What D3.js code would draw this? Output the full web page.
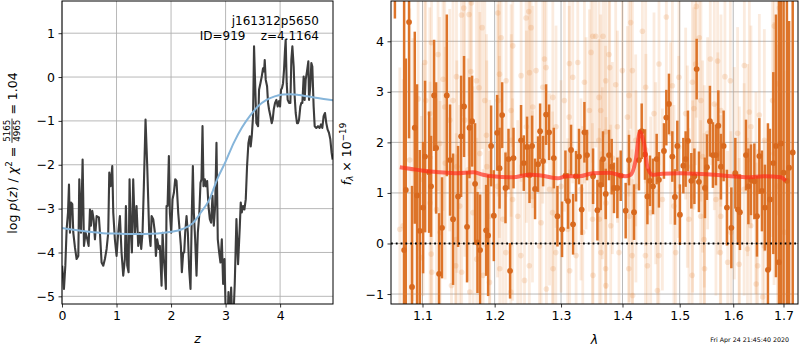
<!DOCTYPE html>
<html>
<head>
<meta charset="utf-8">
<script src="https://cdn.jsdelivr.net/npm/d3@7"></script>
<style>
  html, body { margin: 0; padding: 0; background: #fff; }
  svg text { font-family: "DejaVu Sans", sans-serif; fill: #000; }
</style>
</head>
<body>
<svg id="fig" width="800" height="350"></svg>
<script>
// ---------------- redshift probability p(z) ----------------
const zGrid = [0.003,0.012,0.036,0.061,0.085,0.110,0.128,0.146,0.164,0.189,0.207,0.238,0.268,0.299,0.317,0.348,0.378,0.403,0.433,0.464,0.488,0.513,0.531,0.555,0.580,0.604,0.635,0.677,0.696,0.726,0.757,0.787,0.818,0.848,0.867,0.891,0.922,0.940,0.970,1.001,1.031,1.062,1.092,1.123,1.153,1.172,1.196,1.221,1.239,1.263,1.282,1.306,1.337,1.367,1.398,1.428,1.453,1.477,1.501,1.532,1.563,1.599,1.624,
1.643,1.673,1.704,1.722,1.746,1.777,1.795,1.826,1.844,1.868,1.887,1.905,1.917,1.936,1.960,1.978,2.003,2.027,2.052,2.076,2.100,2.131,2.161,2.180,2.198,2.223,2.241,2.259,2.284,2.308,2.332,2.357,2.381,2.400,2.418,2.442,2.467,2.491,2.516,2.540,2.558,2.577,2.595,2.619,2.638,2.662,2.686,2.711,2.735,2.760,2.784,2.809,2.833,2.857,2.882,2.906,2.931,2.955,2.980,3.004,3.028,3.053,3.077,3.102,3.126,3.150,3.168,3.199,3.229,3.260,
3.278,3.297,3.321,3.345,3.370,3.394,3.419,3.443,3.461,3.480,3.504,3.522,3.547,3.565,3.596,3.614,3.639,3.663,3.687,3.706,3.718,3.736,3.761,3.779,3.797,3.822,3.846,3.864,3.883,3.907,3.932,3.956,3.980,3.999,4.017,4.035,4.054,4.072,4.090,4.102,4.121,4.139,4.164,4.188,4.206,4.225,4.249,4.267,4.286,4.310,4.328,4.347,4.371,4.389,4.408,4.432,4.450,4.469,4.493,4.518,4.530,4.554,4.573,4.591,4.615,4.634,4.664,4.695,4.725,4.750,4.774,4.798,4.823,4.847,4.872,4.896,4.921,4.945,4.963];
const logPz = [-4.30,-4.45,-4.83,-4.30,-3.47,-3.09,-2.45,-3.55,-2.86,-2.90,-3.55,-3.89,-4.15,-4.08,-2.33,-3.55,-1.88,-3.85,-3.55,-3.70,-3.85,-3.02,-3.39,-3.05,-3.24,-3.70,-3.17,-3.20,-3.55,-4.23,-4.30,-4.15,-3.92,-3.55,-2.18,-2.49,-2.03,-3.09,-3.70,-4.08,-3.55,-3.17,-4.00,-4.53,-4.15,-2.94,-4.30,-4.45,-2.33,-3.55,-4.00,-2.33,-3.55,-2.94,-3.85,-3.55,-3.92,-3.55,-2.49,-0.97,-2.03,-3.55,-3.85,
-3.17,-3.24,-3.55,-4.08,-3.70,-3.92,-3.85,-4.76,-3.55,-4.15,-4.45,-4.83,-2.94,-2.94,-1.80,-3.09,-3.55,-2.79,-2.64,-2.33,-2.37,-3.09,-3.55,-3.85,-4.45,-4.00,-4.00,-3.55,-3.17,-3.55,-4.38,-4.83,-3.09,-2.03,-3.09,-3.70,-4.53,-3.55,-3.17,-2.41,-2.33,-1.12,-2.49,-2.33,-2.49,-2.37,-2.94,-3.24,-3.32,-2.71,-3.39,-2.94,-1.50,-3.70,-4.00,-4.23,-3.70,-4.72,-4.15,-5.50,-5.90,-4.90,-5.60,-4.80,-5.70,-5.30,-4.72,-3.24,-4.27,-3.43,
-2.86,-3.09,-2.94,-3.02,-2.79,-2.03,-1.50,-1.35,-1.58,-1.35,-0.89,0.70,-0.36,-1.05,-1.12,-0.29,-0.14,0.01,0.20,0.13,0.39,-0.06,-0.21,-0.59,-0.74,-0.89,-1.05,-0.97,-0.74,-0.59,-0.52,-0.67,-0.55,-0.67,-0.29,-0.25,-0.14,0.17,0.62,0.85,-0.14,-0.52,-0.59,-0.59,0.39,0.70,0.24,-0.44,-0.82,-1.05,-1.05,-0.97,-0.67,-0.59,-0.59,0.01,-0.52,-0.06,0.13,0.36,-0.52,-0.21,0.32,0.24,-0.67,-1.12,-1.16,-1.12,-1.16,-1.08,-1.16,-0.89,-0.82,-1.05,-1.20,-1.27,-1.42,-1.73,-1.88];

// smoothed prior-weighted curve
const zSmooth = [0,0.25,0.5,0.75,1.0,1.25,1.5,1.75,2.0,2.2,2.4,2.55,2.7,2.85,3.0,3.15,3.3,3.45,3.6,3.75,3.9,4.05,4.2,4.35,4.5,4.65,4.8,4.97];
const logPzSmooth = [-3.44,-3.49,-3.53,-3.56,-3.57,-3.58,-3.58,-3.57,-3.53,-3.47,-3.33,-3.08,-2.80,-2.32,-1.93,-1.50,-1.15,-0.88,-0.66,-0.52,-0.44,-0.40,-0.39,-0.41,-0.44,-0.47,-0.50,-0.53];

const zTicks = [0,1,2,3,4];
const logPTicks = [-5,-4,-3,-2,-1,0,1];

// ---------------- spectrum ----------------
// binned 1D spectrum
const specLam = [1.0640,1.0759,1.0781,1.0823,1.0862,1.0898,1.0928,1.0964,1.1008,1.1034,1.1088,1.1114,1.1155,1.1182,1.1222,1.1262,1.1327,1.1372,1.1413,1.1482,1.1524,1.1565,1.1607,1.1641,1.1678,1.1720,1.1754,1.1791,1.1877,1.1906,1.1949,1.1988,
1.2036,1.2071,1.2109,1.2158,1.2202,1.2225,1.2276,1.2388,1.2429,1.2478,1.2515,1.2554,1.2599,1.2645,1.2676,1.2722,1.2768,1.2814,1.2887,1.2944,1.3016,1.3069,1.3110,1.3158,1.3190,1.3237,1.3285,1.3328,1.3372,1.3414,1.3512,
1.3583,1.3637,1.3675,1.3720,1.3774,1.3819,1.3857,1.3914,1.3970,1.4054,1.4110,1.4196,1.4281,1.4328,1.4385,1.4427,1.4472,1.4524,1.4589,1.4629,1.4718,1.4760,1.4807,1.4867,1.4914,1.4957,1.5004,1.5066,1.5108,1.5150,1.5212,1.5268,1.5310,1.5352,
1.5464,1.5501,1.5557,1.5613,1.5670,1.5715,1.5765,1.5816,1.5879,1.5964,1.6041,1.6091,1.6130,1.6248,1.6295,1.6346,1.6413,1.6465,1.6512,1.6564,1.6624,1.6684,1.6724,1.6793,1.6846,1.6907,1.6948,1.7002,1.7070,1.7115,1.7190];
const specFlux = [5.60,-0.13,1.06,4.38,-0.86,2.29,0.95,0.25,0.71,1.72,1.41,1.13,2.93,1.89,-0.60,0.31,2.93,1.65,0.48,0.93,2.12,2.71,0.33,2.29,2.42,1.18,0.02,-0.13,0.26,0.16,1.93,0.55,
2.19,1.49,2.54,1.10,1.67,-0.54,1.69,2.04,1.59,1.91,1.35,1.93,1.08,1.57,2.22,1.63,2.55,2.20,1.69,0.54,0.28,1.34,0.84,1.85,0.38,1.33,1.72,0.67,2.20,1.75,1.33,
0.66,1.16,1.67,0.98,1.75,1.52,1.10,1.10,1.34,0.65,1.65,0.62,1.65,2.22,1.76,0.93,1.24,1.13,1.67,1.26,1.83,2.49,2.76,1.72,0.92,1.93,0.57,1.54,1.67,2.03,1.24,1.33,3.45,1.22,
1.10,1.51,2.42,1.75,1.75,2.33,1.52,1.93,0.71,0.31,1.39,0.67,0.62,1.75,1.13,1.26,1.23,0.54,1.73,1.04,0.71,-0.52,0.87,1.59,1.93,-0.37,1.98,1.40,1.24,1.50,1.80];
const specErr = [1.15,5.2,2.6,2.3,2.0,1.9,2.2,1.6,1.3,1.5,1.2,1.0,1.1,1.3,1.2,1.0,1.6,1.1,1.3,1.0,1.2,1.0,1.1,1.0,0.9,1.2,1.0,1.1,0.9,1.2,0.8,0.9,
0.75,0.8,0.65,0.7,0.6,0.55,0.6,0.7,0.55,0.6,0.55,0.6,0.6,0.55,0.55,0.5,0.6,0.55,0.6,0.6,0.55,0.5,0.55,0.5,0.6,0.5,0.55,0.5,0.6,0.5,0.55,
0.6,0.5,0.55,0.5,0.5,0.55,0.5,0.6,0.5,0.55,0.5,0.55,0.6,0.55,0.5,0.55,0.5,0.55,0.5,0.55,0.55,0.55,0.6,0.5,0.55,0.5,0.6,0.55,0.55,0.6,0.55,0.55,0.6,0.6,
0.6,0.65,0.7,0.65,0.6,0.7,0.65,0.7,0.75,0.8,0.7,0.7,0.75,0.7,0.75,0.7,0.75,0.8,0.75,0.8,0.85,2.9,1.4,1.8,2.6,5.4,3.6,4.2,4.6,2.9,4.5];

// individual unbinned pixels
const rawLam = [1.1669,1.1561,1.1635,1.1529,1.1820,1.1120,1.1208,1.1030,1.1276,1.1460,1.1659,1.1740,1.1858,1.1777,1.1413,1.1043,1.0942,1.1097,1.1299,1.1368,1.1575,1.1882,1.1231,1.1305,1.1465,1.1787,1.1621,1.0832,1.0875,1.1008,1.1887,1.0746,1.0703,1.1100,1.1187,1.1506,1.1692,1.1930,1.1236,1.1455,1.1744,1.1116,1.0986,1.1450,1.1532,1.1391,1.1125,1.1834,1.1925,1.1645,
1.2046,1.2504,1.2464,1.2539,1.2094,1.2265,1.3507,1.2071,1.2167,1.2389,1.2515,1.2615,1.2743,1.2768,1.3185,1.3265,1.3372,1.3479,1.3132,1.2050,1.2240,1.2564,1.2717,1.2872,1.3053,1.3453,1.2068,1.2243,1.2468,1.2922,1.3128,1.3398,1.2042,1.2262,1.2560,1.2821,1.3000,1.3317,1.2119,1.2339,1.2691,1.2868,1.3105,1.3345,1.3503,1.2163,1.2385,1.2666,1.2918,1.3238,1.2074,1.2512,1.2876,1.2440,1.3136,1.3511,1.2237,1.2772,
1.3555,1.3675,1.3774,1.4139,1.4340,1.4760,1.5304,1.4630,1.3786,1.3998,1.4168,1.4986,1.5291,1.5231,1.3610,1.3720,1.3886,1.4110,1.4397,1.4868,1.5260,1.5108,1.3637,1.4083,1.4542,1.3716,1.3914,1.4837,1.3606,1.4225,1.4401,1.4982,1.3665,1.3831,1.4572,1.5139,1.3724,1.4229,1.4690,1.4896,1.5235,1.3614,1.3803,1.4114,1.4484,1.5168,1.3641,1.3941,1.4164,1.4393,1.4626,1.4927,1.3718,1.4106,1.4427,1.5227,1.3722,1.4172,1.4602,
1.5359,1.5564,1.5702,1.5841,1.5944,1.6216,1.6812,1.6915,1.6880,1.5389,1.5639,1.5765,1.6314,1.6512,1.6778,1.5514,1.6085,1.6346,1.6612,1.5421,1.5706,1.6021,1.6281,1.6808,1.5452,1.5670,1.6212,1.6445,1.6876,1.5385,1.5761,1.6118,1.6342,1.5956,1.7017,1.5448,1.5753,1.6277,1.6608,1.5893,1.6114,1.6478,1.5456,1.6449,1.6578];
const rawFlux = [4.76,4.66,4.53,4.52,4.27,3.97,3.74,3.58,3.25,3.30,3.40,3.22,2.83,3.08,2.83,2.83,2.86,2.57,2.70,2.44,2.44,2.14,1.98,1.59,1.52,1.78,1.46,1.65,1.46,1.26,1.52,0.35,0.28,0.80,0.67,0.74,0.61,0.54,0.22,0.08,-0.31,-0.21,-0.28,-0.44,-0.57,-0.83,-0.57,-0.63,-0.77,-0.96,
4.56,4.59,4.46,4.27,4.07,3.91,4.10,3.35,3.22,3.32,3.38,3.42,3.65,3.48,3.29,3.58,3.19,3.78,3.56,2.83,2.63,2.70,3.09,2.89,2.83,2.63,1.91,2.04,2.31,2.31,2.50,2.18,1.13,0.87,0.93,1.07,1.13,1.07,0.48,0.54,0.41,0.61,0.28,0.22,0.48,-0.18,-0.24,-0.05,-0.18,-0.24,-0.50,-0.44,-0.50,-0.73,-0.54,-0.63,-0.96,-0.90,
4.10,4.10,3.74,4.37,4.20,4.48,4.69,3.55,3.48,3.42,3.42,3.29,3.55,3.19,2.89,3.22,3.14,2.93,3.09,3.12,2.67,2.57,2.63,2.50,2.57,2.21,2.31,2.18,2.04,2.04,1.85,1.91,1.39,1.69,1.39,1.52,0.80,1.13,0.87,0.74,0.93,0.48,0.35,0.54,0.61,0.48,-0.18,-0.18,-0.24,-0.24,-0.24,-0.18,-0.50,-0.50,-0.44,-0.63,-0.83,-1.03,-0.93,
4.07,3.65,3.61,3.30,3.22,3.52,4.30,4.66,3.16,2.83,2.76,2.63,2.60,2.54,2.83,2.18,2.18,2.31,2.04,1.72,1.78,1.39,1.65,1.78,1.13,0.87,1.07,1.00,1.13,0.54,0.54,0.61,0.35,0.22,0.22,0.08,-0.18,-0.11,-0.05,-0.37,-0.41,-0.44,-0.50,-0.80,-1.06];
const rawErr = [2.5,2.2,2.8,2.0,2.4,2.3,2.7,2.1,2.6,1.9,2.4,2.2,2.9,2.0,2.3,2.6,3.0,2.1,2.4,2.2,2.7,2.0,2.5,2.3,2.1,2.8,2.2,3.0,2.6,2.3,2.1,2.9,3.2,2.4,2.2,2.0,2.5,2.3,2.6,2.1,2.4,2.7,2.8,2.2,2.0,2.5,2.3,2.1,2.6,2.2,
2.3,2.6,2.1,2.4,2.2,2.0,2.5,1.9,2.3,2.1,2.0,2.4,2.2,1.9,2.1,2.3,2.0,2.4,2.2,1.9,2.1,2.0,2.3,1.9,2.2,2.0,1.8,2.1,1.9,2.0,2.2,1.9,1.8,2.0,1.7,1.9,2.1,1.8,2.0,1.9,1.7,2.0,1.8,2.1,1.9,2.0,1.8,2.2,1.9,2.1,2.0,2.2,1.9,2.3,2.0,2.1,2.4,2.2,
2.2,2.0,2.4,2.1,2.3,1.9,2.2,2.0,1.8,2.1,1.9,2.2,2.0,1.8,1.9,2.1,1.7,2.0,1.9,1.8,2.0,1.7,1.9,1.8,2.0,1.7,1.9,1.8,2.0,1.7,1.9,1.8,1.7,1.9,1.8,2.0,1.7,1.9,1.8,2.0,1.9,1.8,2.0,1.7,1.9,1.8,2.0,1.9,2.1,1.8,2.0,1.9,2.1,2.0,1.9,2.2,2.1,2.3,2.0,
2.3,2.1,2.2,2.0,2.1,2.2,2.8,3.0,2.6,2.0,2.1,1.9,2.2,2.0,2.7,1.9,2.1,2.0,2.2,1.9,2.0,2.1,1.9,2.6,2.0,1.9,2.1,2.0,2.8,1.9,2.0,2.1,1.9,2.0,3.2,2.1,2.0,2.2,2.1,2.2,2.1,2.3,2.2,2.4,2.5];

// best-fit template
const modelLam = [1.0703,1.0832,1.1008,1.1231,1.1460,1.1692,1.1834,1.1973,1.2265,1.2515,1.2717,1.2949,1.3079,1.3291,1.3507,1.3774,1.4054,1.4139,1.4225,1.4298,1.4368,1.4427,1.4514,1.4690,1.4986,1.5291,1.5639,1.5956,1.6281,1.6612,1.6948,1.7044];
const modelFlux = [1.51,1.48,1.44,1.41,1.39,1.41,1.36,1.33,1.31,1.36,1.34,1.29,1.33,1.33,1.39,1.40,1.33,1.36,1.65,2.21,1.98,1.52,1.36,1.38,1.39,1.38,1.36,1.33,1.31,1.33,1.31,1.24];

const lamTicks = [1.1,1.2,1.3,1.4,1.5,1.6,1.7];
const fluxTicks = [-1,0,1,2,3,4];

// ---------------- drawing ----------------
const svg = d3.select("#fig");
const FS = 12.5;
const gridColor = "#b0b0b0";

function styleAxis(g) {
  g.select(".domain").remove();
  g.selectAll(".tick line").attr("stroke", "#000").attr("stroke-width", 0.8);
  g.selectAll(".tick text").attr("font-size", FS + "px").attr("fill", "#000")
    .style("font-family", "'DejaVu Sans', sans-serif");
}

function drawGrid(g, x, y, xt, yt) {
  const [x0, x1] = x.range(), [y0, y1] = y.range();
  g.selectAll(null).data(xt).join("line")
    .attr("x1", d => x(d)).attr("x2", d => x(d)).attr("y1", y0).attr("y2", y1)
    .attr("stroke", gridColor).attr("stroke-width", 0.9);
  g.selectAll(null).data(yt).join("line")
    .attr("x1", x0).attr("x2", x1).attr("y1", d => y(d)).attr("y2", d => y(d))
    .attr("stroke", gridColor).attr("stroke-width", 0.9);
}

function frame(x, y) {
  const [x0, x1] = x.range(), [y0, y1] = y.range();
  svg.append("rect").attr("x", x0).attr("y", y1).attr("width", x1 - x0).attr("height", y0 - y1)
    .attr("fill", "none").attr("stroke", "#000").attr("stroke-width", 1);
}

function clip(id, x, y) {
  const [x0, x1] = x.range(), [y0, y1] = y.range();
  svg.append("clipPath").attr("id", id).append("rect")
    .attr("x", x0).attr("y", y1).attr("width", x1 - x0).attr("height", y0 - y1);
}

// rotated label made of mathtext-like pieces
function rotLabel(cx, cy, pieces) {
  const g = svg.append("g");
  let pos = 0;
  pieces.forEach(p => {
    if (p.frac) {
      const s = FS * 0.7;
      const tn = g.append("text").attr("font-size", s + "px").attr("text-anchor", "middle").text(p.frac[0]);
      const td = g.append("text").attr("font-size", s + "px").attr("text-anchor", "middle").text(p.frac[1]);
      const w = Math.max(tn.node().getComputedTextLength(), td.node().getComputedTextLength()) + 2;
      tn.attr("x", pos + w / 2).attr("y", -6.4);
      td.attr("x", pos + w / 2).attr("y", 3.9);
      g.append("line").attr("x1", pos).attr("x2", pos + w).attr("y1", -4.5).attr("y2", -4.5)
        .attr("stroke", "#000").attr("stroke-width", 0.8);
      pos += w;
    } else {
      const t = g.append("text")
        .attr("x", pos).attr("y", p.dy || 0)
        .attr("font-size", (FS * (p.s || 1)) + "px")
        .attr("font-style", p.it ? "italic" : "normal")
        .attr("xml:space", "preserve").style("white-space", "pre")
        .text(p.t);
      pos += t.node().getComputedTextLength();
    }
  });
  g.attr("transform", `translate(${cx},${cy + pos / 2}) rotate(-90)`);
}

// ===== left panel: log p(z) =====
const xL = d3.scaleLinear().domain([0, 4.97]).range([62, 333]);
const yL = d3.scaleLinear().domain([-5.175, 1.734]).range([304, 1]);
clip("clipL", xL, yL);
drawGrid(svg.append("g"), xL, yL, zTicks, logPTicks);

const lineL = d3.line().x(d => xL(d[0])).y(d => yL(d[1]));
const gL = svg.append("g").attr("clip-path", "url(#clipL)");
gL.append("path").datum(d3.zip(zGrid, logPz)).attr("d", lineL)
  .attr("fill", "none").attr("stroke", "#3d3d3d").attr("stroke-width", 2.1).attr("stroke-linejoin", "round");
gL.append("path").datum(d3.zip(zSmooth, logPzSmooth))
  .attr("d", lineL.curve(d3.curveMonotoneX))
  .attr("fill", "none").attr("stroke", "#86b5da").attr("stroke-width", 2);

styleAxis(svg.append("g").attr("transform", "translate(0,304)")
  .call(d3.axisBottom(xL).tickValues(zTicks).tickSize(3.5).tickPadding(3.5).tickFormat(d3.format("d"))));
styleAxis(svg.append("g").attr("transform", "translate(62,0)")
  .call(d3.axisLeft(yL).tickValues(logPTicks).tickSize(3.5).tickPadding(3.5).tickFormat(d3.format("d"))));
frame(xL, yL);

svg.append("text").attr("x", 319).attr("y", 24.5).attr("text-anchor", "end")
  .attr("font-size", "12px").text("j161312p5650");
svg.append("text").attr("x", 319).attr("y", 39.5).attr("text-anchor", "end")
  .attr("font-size", "12px").attr("xml:space", "preserve").style("white-space", "pre")
  .text("ID=919    z=4.1164");

svg.append("text").attr("x", 197.5).attr("y", 343).attr("text-anchor", "middle")
  .attr("font-size", FS + "px").attr("font-style", "italic").text("z");

rotLabel(16.5, 153, [
  { t: "log " }, { t: "p", it: true }, { t: "(" }, { t: "z", it: true }, { t: ")" },
  { t: " / " }, { t: "χ", it: true }, { t: "2", s: 0.7, dy: -5 }, { t: " = " },
  { frac: ["5165", "4965"] }, { t: " = 1.04" }
]);

// ===== right panel: spectrum =====
const xR = d3.scaleLog().domain([1.059, 1.73]).range([391, 798]);
const yR = d3.scaleLinear().domain([-1.197, 4.797]).range([304, 1]);
clip("clipR", xR, yR);
drawGrid(svg.append("g"), xR, yR, lamTicks, fluxTicks);

const gR = svg.append("g").attr("clip-path", "url(#clipR)");
const raw = d3.range(rawLam.length).map(i => ({ l: rawLam[i], f: rawFlux[i], e: rawErr[i] }));
const spec = d3.range(specLam.length).map(i => ({ l: specLam[i], f: specFlux[i], e: specErr[i] }));

// unbinned pixels, faint
gR.append("g").selectAll("line").data(raw).join("line")
  .attr("x1", d => xR(d.l)).attr("x2", d => xR(d.l))
  .attr("y1", d => yR(d.f - d.e)).attr("y2", d => yR(d.f + d.e))
  .attr("stroke", "#e8883a").attr("stroke-opacity", 0.17).attr("stroke-width", 2.8);
gR.append("g").selectAll("circle").data(raw).join("circle")
  .attr("cx", d => xR(d.l)).attr("cy", d => yR(d.f)).attr("r", 2.8)
  .attr("fill", "#e8883a").attr("fill-opacity", 0.2);

// binned spectrum
gR.append("g").selectAll("line").data(spec).join("line")
  .attr("x1", d => xR(d.l)).attr("x2", d => xR(d.l))
  .attr("y1", d => yR(d.f - d.e)).attr("y2", d => yR(d.f + d.e))
  .attr("stroke", "#dd7429").attr("stroke-width", 2.5);
gR.append("g").selectAll("circle").data(spec).join("circle")
  .attr("cx", d => xR(d.l)).attr("cy", d => yR(d.f)).attr("r", 2.9)
  .attr("fill", "#d8691e");

// template
gR.append("path").datum(d3.zip(modelLam, modelFlux))
  .attr("d", d3.line().x(d => xR(d[0])).y(d => yR(d[1])).curve(d3.curveMonotoneX))
  .attr("fill", "none").attr("stroke", "#ff2a1a").attr("stroke-opacity", 0.68)
  .attr("stroke-width", 4).attr("stroke-linejoin", "round");

// zero level
gR.append("line").attr("x1", xR.range()[0]).attr("x2", xR.range()[1])
  .attr("y1", yR(0)).attr("y2", yR(0))
  .attr("stroke", "#000").attr("stroke-width", 1.8).attr("stroke-dasharray", "1.8,3");

styleAxis(svg.append("g").attr("transform", "translate(0,304)")
  .call(d3.axisBottom(xR).tickValues(lamTicks).tickSize(3.5).tickPadding(3.5).tickFormat(d3.format(".1f"))));
styleAxis(svg.append("g").attr("transform", "translate(391,0)")
  .call(d3.axisLeft(yR).tickValues(fluxTicks).tickSize(3.5).tickPadding(3.5).tickFormat(d3.format("d"))));
frame(xR, yR);

svg.append("text").attr("x", 594.5).attr("y", 344).attr("text-anchor", "middle")
  .attr("font-size", FS + "px").attr("font-style", "italic").text("λ");

rotLabel(350.5, 154, [
  { t: "f", it: true }, { t: "λ", it: true, s: 0.7, dy: 2.6 }, { t: " × 10" },
  { t: "−19", s: 0.7, dy: -5 }
]);

svg.append("text").attr("x", 789).attr("y", 342).attr("text-anchor", "end")
  .attr("font-size", "6.3px").text("Fri Apr 24 21:45:40 2020");
</script>
</body>
</html>
